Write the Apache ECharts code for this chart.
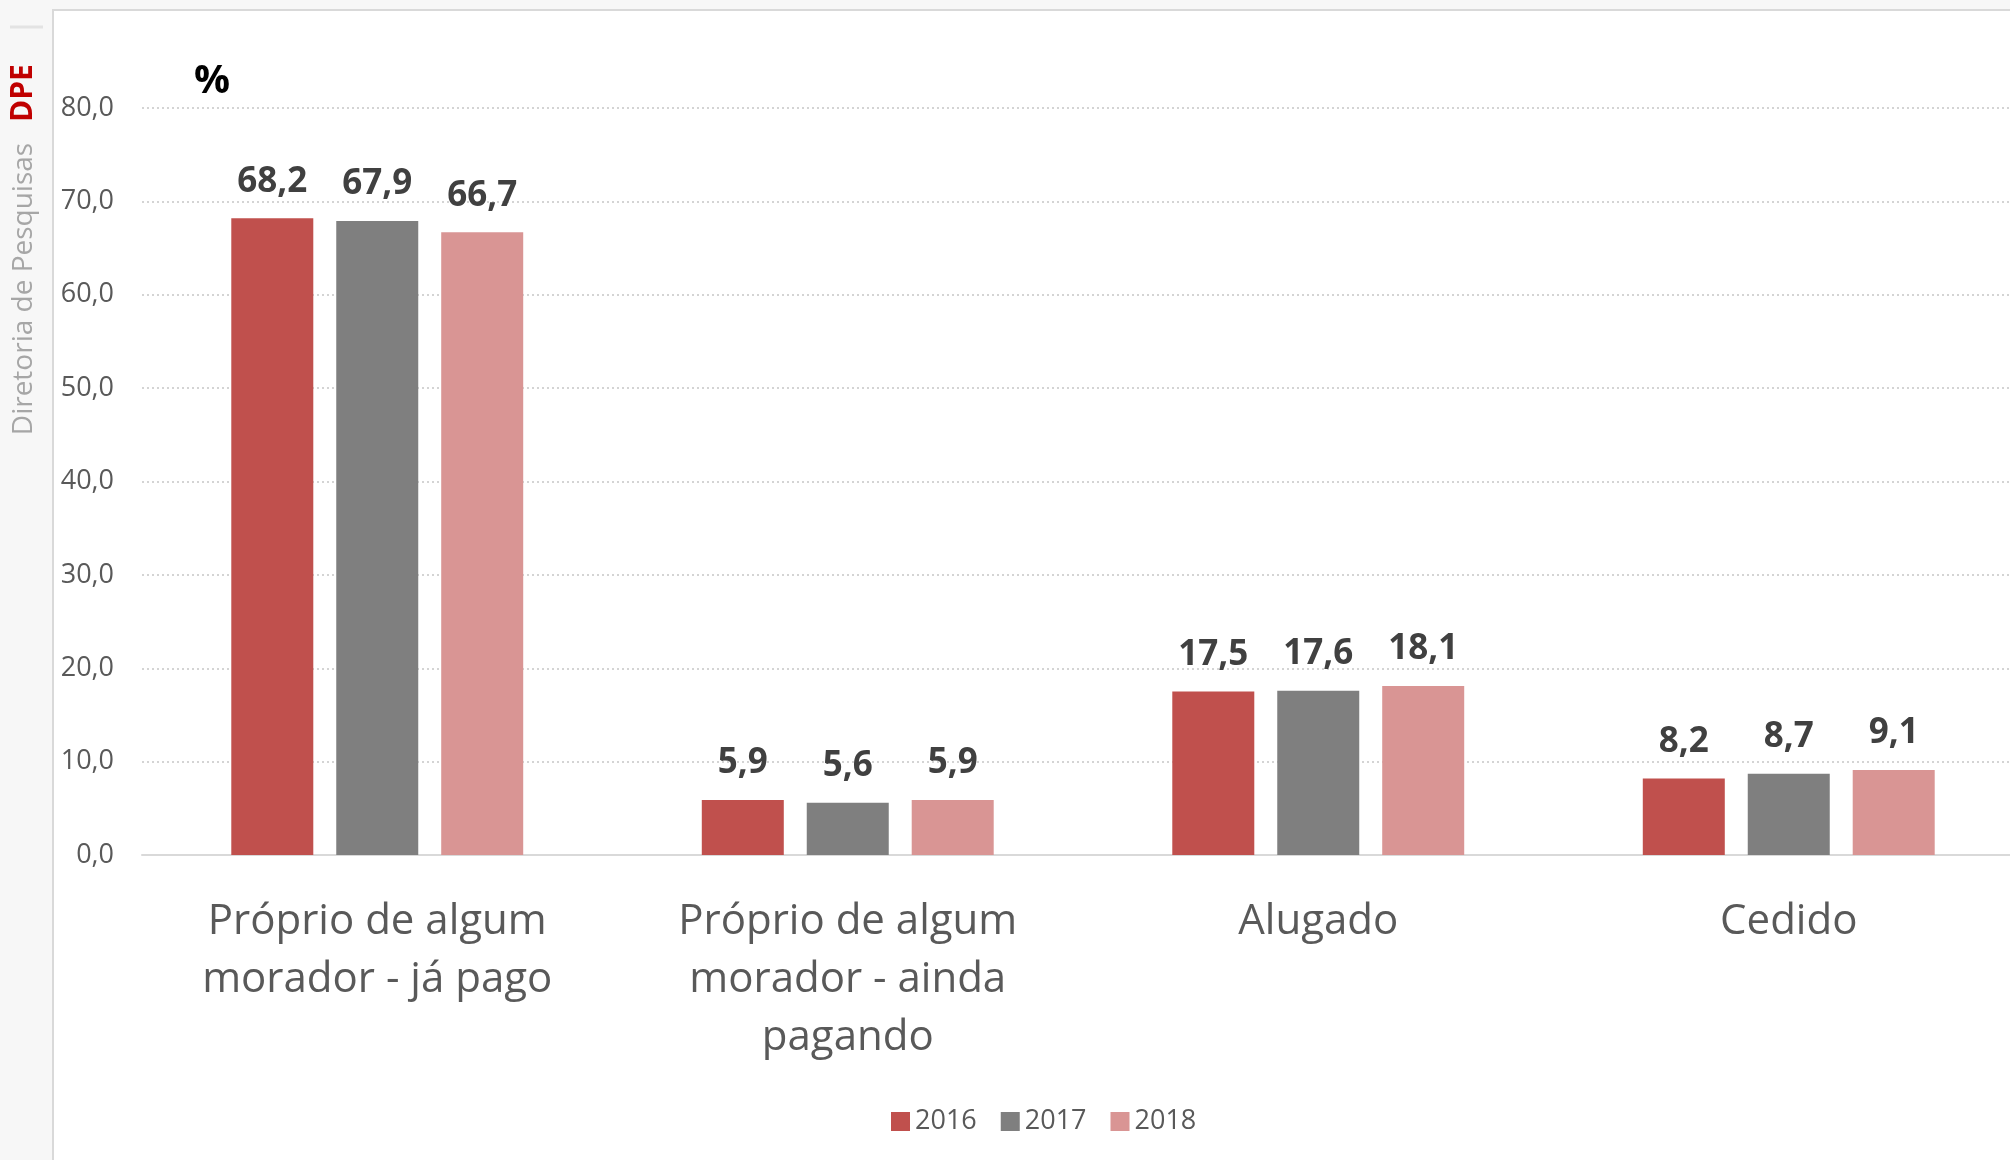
<!DOCTYPE html>
<html>
<head>
<meta charset="utf-8">
<script src="https://cdn.jsdelivr.net/npm/echarts@6/dist/echarts.min.js"></script>
<style>
    html, body { margin: 0; padding: 0; background: #f7f7f7; }
    #main { width: 2010px; height: 1160px; }
</style>
</head>
<body>
<div id="main"></div>
<script>
// valores (%)
let categorias = ['Próprio de algum\nmorador - já pago', 'Próprio de algum\nmorador - ainda\npagando', 'Alugado', 'Cedido'];
let anos = ['2016', '2017', '2018'];
let v2016 = [68.2, 5.9, 17.5, 8.2];
let v2017 = [67.9, 5.6, 17.6, 8.7];
let v2018 = [66.7, 5.9, 18.1, 9.1];
let cores = ['#c0504d', '#7f7f7f', '#d99594'];

window.addEventListener('load', function () {
    let chart = echarts.init(document.getElementById('main'));
    let fonte = '"Open Sans", "Noto Sans", sans-serif';
    let virgula = function (v) { return Number(v).toFixed(1).replace('.', ','); };

    let serie = function (nome, dados, cor) {
        return {
            name: nome,
            type: 'bar',
            data: dados,
            barWidth: 82,
            barGap: '28%',
            itemStyle: { color: cor },
            label: {
                show: true,
                position: 'top',
                distance: 19,
                formatter: function (p) { return virgula(p.value); },
                color: '#404040',
                fontFamily: fonte,
                fontWeight: 'bold',
                fontSize: 35
            }
        };
    };

    let option = {
        backgroundColor: '#f7f7f7',
        animation: false,
        textStyle: { fontFamily: fonte },
        graphic: [
            {
                type: 'rect',
                z: -10,
                shape: { x: 53, y: 10, width: 2000, height: 1200 },
                style: { fill: '#ffffff', stroke: '#d9d9d9', lineWidth: 2 }
            },
            {
                type: 'line',
                shape: { x1: 10, y1: 27, x2: 43, y2: 27 },
                style: { stroke: '#e3e3e3', lineWidth: 3 }
            },
            {
                type: 'text',
                x: 23, y: 93,
                rotation: Math.PI / 2,
                style: {
                    text: 'DPE', fill: '#c00000', font: 'bold 30px "Open Sans", sans-serif',
                    align: 'center', verticalAlign: 'middle'
                }
            },
            {
                type: 'text',
                x: 24, y: 289,
                rotation: Math.PI / 2,
                style: {
                    text: 'Diretoria de Pesquisas', fill: '#a6a6a6', font: '28px "Open Sans", sans-serif',
                    align: 'center', verticalAlign: 'middle'
                }
            },
            {
                type: 'text',
                x: 212, y: 82,
                style: {
                    text: '%', fill: '#000000', font: 'bold 40px "Open Sans", sans-serif',
                    align: 'center', verticalAlign: 'middle'
                }
            }
        ],
        legend: {
            data: anos,
            left: 886,
            top: 1103,
            itemWidth: 19,
            itemHeight: 19,
            itemGap: 24,
            icon: 'rect',
            textStyle: { color: '#595959', fontSize: 27, fontFamily: fonte }
        },
        grid: {
            left: 142,
            top: 108,
            width: 1882,
            height: 747,
            outerBoundsMode: 'none'
        },
        xAxis: {
            type: 'category',
            data: categorias,
            axisLine: { lineStyle: { color: '#d9d9d9', width: 2 } },
            axisTick: { show: false },
            axisLabel: {
                color: '#595959',
                fontSize: 42,
                lineHeight: 58,
                margin: 38,
                interval: 0,
                fontFamily: fonte
            }
        },
        yAxis: {
            type: 'value',
            min: 0,
            max: 80,
            interval: 10,
            axisLine: { show: false },
            axisTick: { show: false },
            axisLabel: {
                color: '#595959',
                fontSize: 27,
                margin: 28,
                fontFamily: fonte,
                formatter: virgula
            },
            splitLine: { lineStyle: { color: '#d4d4d4', width: 2, type: [2, 3] } }
        },
        series: [
            serie('2016', v2016, cores[0]),
            serie('2017', v2017, cores[1]),
            serie('2018', v2018, cores[2])
        ]
    };
    chart.setOption(option);
}, false);
</script>
</body>
</html>
